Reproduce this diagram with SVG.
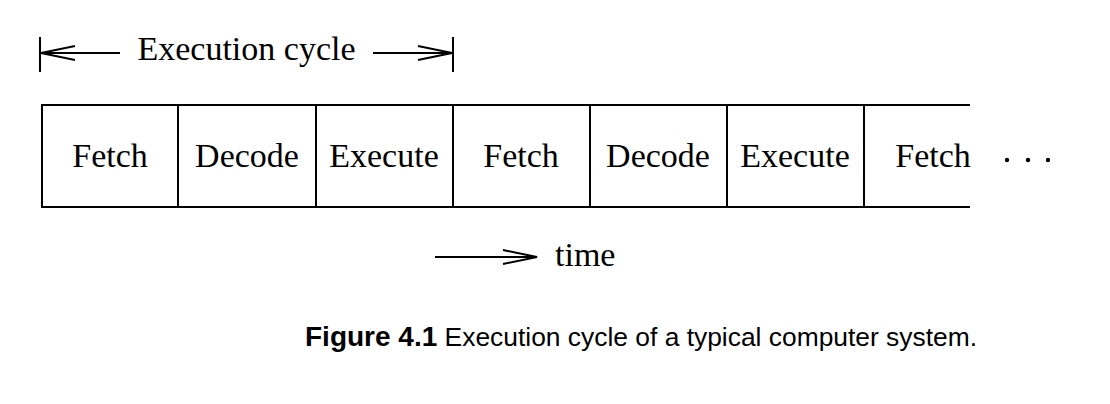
<svg xmlns="http://www.w3.org/2000/svg" width="1110" height="404" viewBox="0 0 1110 404">
<style>
.t{font-family:"Liberation Serif","Times New Roman",serif;font-size:34px;fill:#000;text-anchor:middle}
.ln{stroke:#000;stroke-width:2;fill:none}
.cap{font-family:"Liberation Sans",Arial,sans-serif;font-size:26.4px;fill:#000}
</style>
<rect width="1110" height="404" fill="#fff"/>
<g id="connectors">
  <!-- execution cycle span -->
  <line class="ln" x1="40" y1="37" x2="40" y2="72"/>
  <line class="ln" x1="453" y1="37" x2="453" y2="72"/>
  <line class="ln" x1="40" y1="53" x2="120" y2="53"/>
  <path class="ln" d="M75 46 L41 53 L75 60"/>
  <line class="ln" x1="373" y1="53" x2="452" y2="53"/>
  <path class="ln" d="M418 46 L452 53 L418 60"/>
  <!-- time arrow -->
  <line class="ln" x1="435" y1="257" x2="537" y2="257"/>
  <path class="ln" d="M503 250 L537 257 L503 264"/>
</g>
<g id="label-cycle"><text class="t" x="246.5" y="60">Execution cycle</text></g>
<g id="timeline">
  <line class="ln" x1="42" y1="105" x2="970" y2="105"/>
  <line class="ln" x1="42" y1="207" x2="970" y2="207"/>
  <line class="ln" x1="42" y1="104" x2="42" y2="208"/>
</g>
<g id="cell1"><line class="ln" x1="178" y1="104" x2="178" y2="208"/><text class="t" x="110" y="167">Fetch</text></g>
<g id="cell2"><line class="ln" x1="316" y1="104" x2="316" y2="208"/><text class="t" x="247" y="167">Decode</text></g>
<g id="cell3"><line class="ln" x1="453" y1="104" x2="453" y2="208"/><text class="t" x="384" y="167">Execute</text></g>
<g id="cell4"><line class="ln" x1="590" y1="104" x2="590" y2="208"/><text class="t" x="521" y="167">Fetch</text></g>
<g id="cell5"><line class="ln" x1="727" y1="104" x2="727" y2="208"/><text class="t" x="658" y="167">Decode</text></g>
<g id="cell6"><line class="ln" x1="864" y1="104" x2="864" y2="208"/><text class="t" x="795" y="167">Execute</text></g>
<g id="cell7"><text class="t" x="933" y="167">Fetch</text></g>
<g id="dots">
  <circle cx="1007" cy="160" r="2.2"/><circle cx="1028" cy="160" r="2.2"/><circle cx="1048" cy="160" r="2.2"/>
</g>
<g id="time-label"><text class="t" x="555" y="266" style="text-anchor:start">time</text></g>
<g id="caption"><text class="cap" x="305" y="346"><tspan font-weight="bold" font-size="28px">Figure 4.1</tspan> Execution cycle of a typical computer system.</text></g>
</svg>
